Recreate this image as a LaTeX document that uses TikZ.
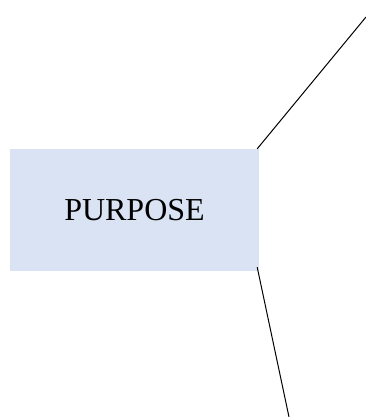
\documentclass[tikz,border=0pt]{standalone}
\usepackage{fontspec}
\setmainfont{Liberation Serif}
\definecolor{PurposeFill}{HTML}{DAE3F3}
\usetikzlibrary{positioning}
\tikzset{
  topic/.style={fill=PurposeFill, draw=none, minimum width=249pt, minimum height=122pt, inner sep=0pt, font=\fontsize{32}{38}\selectfont},
  branch/.style={line width=1pt, black}
}
\begin{document}
\begin{tikzpicture}[x=1pt, y=-1pt]
    \useasboundingbox (0,0) rectangle (366,417);
    \node[topic] (purpose) at (134.5,210) {PURPOSE};
    \coordinate (upper) at (366,17);
    \coordinate (lower) at (289,417);

    \draw[branch] ([xshift=-2pt]purpose.north east) -- (upper);
    \draw[branch] ([xshift=-2pt,yshift=4pt]purpose.south east) -- (lower);
  \end{tikzpicture}
\end{document}
